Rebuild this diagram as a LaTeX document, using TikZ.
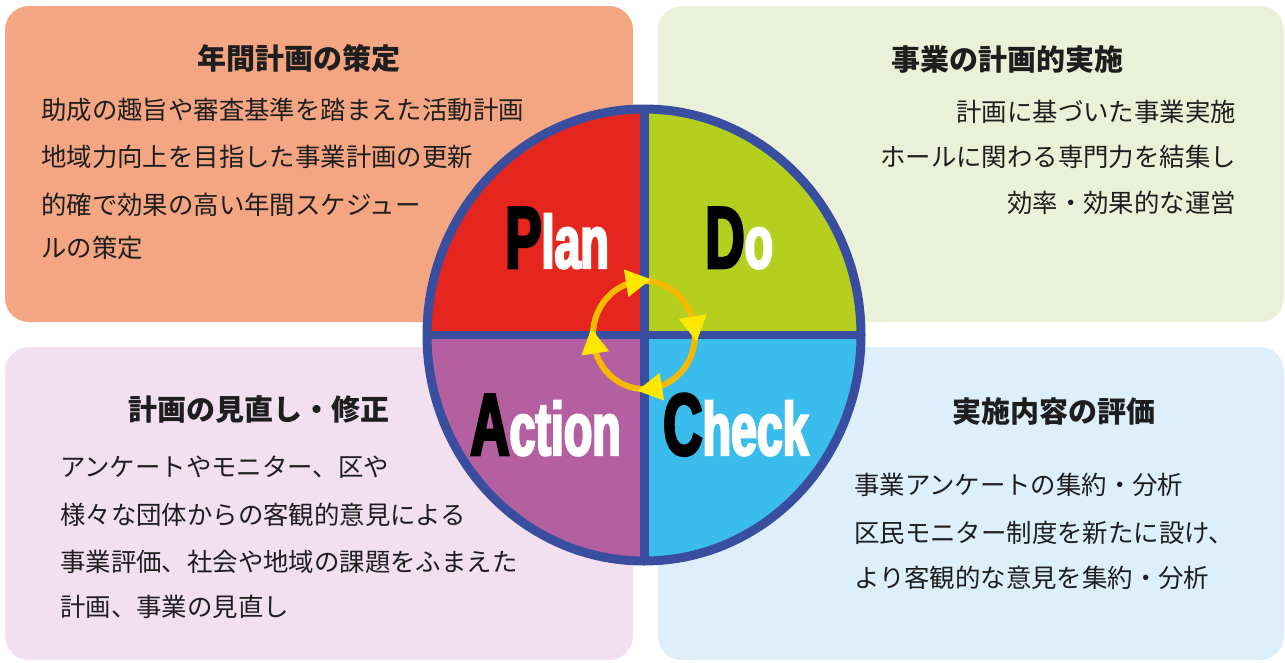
\documentclass[tikz,border=0pt]{standalone}
\usepackage{fontspec}
\newfontfamily\jp{Noto Sans CJK JP}
\newfontfamily\pdcafont[FakeStretch=0.62,FakeBold=3]{Liberation Sans}
\definecolor{boxP}{RGB}{244,165,130}
\definecolor{boxD}{RGB}{234,241,216}
\definecolor{boxA}{RGB}{242,223,240}
\definecolor{boxC}{RGB}{221,239,251}
\definecolor{qP}{RGB}{228,38,30}
\definecolor{qD}{RGB}{181,207,31}
\definecolor{qA}{RGB}{180,96,160}
\definecolor{qC}{RGB}{58,188,236}
\definecolor{bord}{RGB}{58,78,160}
\definecolor{ringc}{RGB}{245,185,0}
\definecolor{arrowc}{RGB}{255,232,0}
\definecolor{txt}{RGB}{30,30,30}
\begin{document}
\begin{tikzpicture}[x=1pt,y=1pt,
  panel/.style={rounded corners=24pt, inner sep=0pt, outer sep=0pt, anchor=north west, minimum width=628pt, minimum height=316pt},
  ttl/.style={font=\jp\bfseries\fontsize{29}{29}\selectfont, text=txt, inner sep=0pt, anchor=center},
  bdyl/.style={font=\jp\fontsize{25.4}{25.4}\selectfont, text=txt, inner sep=0pt, anchor=west},
  bdyr/.style={font=\jp\fontsize{25.4}{25.4}\selectfont, text=txt, inner sep=0pt, anchor=east},
  pdca/.style={font=\pdcafont\bfseries\fontsize{75}{75}\selectfont, text=white, inner sep=0pt, anchor=base west}]
\useasboundingbox (0,0) rectangle (1285,-662);
% panels
\node[panel, fill=boxP] (pP) at (5,-6) {};
\node[panel, fill=boxD, minimum width=626pt] (pD) at (658,-6) {};
\node[panel, fill=boxA, minimum height=313pt] (pA) at (5,-347) {};
\node[panel, fill=boxC, minimum width=626pt, minimum height=313pt] (pC) at (658,-347) {};
% texts top-left
\node[ttl] (tP) at (299,-58) {年間計画の策定};
\node[bdyl] (p1) at (41,-110) {助成の趣旨や審査基準を踏まえた活動計画};
\node[bdyl] (p2) at (41,-157) {地域力向上を目指した事業計画の更新};
\node[bdyl] (p3) at (41,-205) {的確で効果の高い年間スケジュー};
\node[bdyl] (p4) at (41,-248) {ルの策定};
% top-right
\node[ttl] (tD) at (1007,-60) {事業の計画的実施};
\node[bdyr] (d1) at (1236,-112) {計画に基づいた事業実施};
\node[bdyr] (d2) at (1236,-157) {ホールに関わる専門力を結集し};
\node[bdyr] (d3) at (1236,-203) {効率・効果的な運営};
% bottom-left
\node[ttl] (tA) at (259,-410) {計画の見直し・修正};
\node[bdyl] (a1) at (60,-467) {アンケートやモニター、区や};
\node[bdyl] (a2) at (60,-515) {様々な団体からの客観的意見による};
\node[bdyl] (a3) at (60,-562) {事業評価、社会や地域の課題をふまえた};
\node[bdyl] (a4) at (60,-607) {計画、事業の見直し};
% bottom-right
\node[ttl] (tC) at (1054,-412) {実施内容の評価};
\node[bdyl] (c1) at (854,-485) {事業アンケートの集約・分析};
\node[bdyl] (c2) at (854,-533) {区民モニター制度を新たに設け、};
\node[bdyl] (c3) at (854,-578) {より客観的な意見を集約・分析};
% circle
\coordinate (c) at (644,-335);
\fill[qP] (c) -- ++(0,226) arc[start angle=90,end angle=180,x radius=217,y radius=226] -- cycle;
\fill[qD] (c) -- ++(217,0) arc[start angle=0,end angle=90,x radius=217,y radius=226] -- cycle;
\fill[qA] (c) -- ++(-217,0) arc[start angle=180,end angle=270,x radius=217,y radius=226] -- cycle;
\fill[qC] (c) -- ++(0,-226) arc[start angle=270,end angle=360,x radius=217,y radius=226] -- cycle;
\draw[bord, line width=9pt] (c) +(0,226) -- +(0,-226);
\draw[bord, line width=8pt] (c) +(-217,0) -- +(217,0);
\draw[bord, line width=9pt] (c) ellipse [x radius=217, y radius=226];
% PDCA words
\node[pdca] (plan) at (505,-268) {\textcolor{black}{\fontsize{88}{88}\selectfont P}lan};
\node[pdca] (do) at (705,-268) {\textcolor{black}{\fontsize{88}{88}\selectfont D}o};
\node[pdca] (action) at (470,-455) {\textcolor{black}{\fontsize{88}{88}\selectfont A}ction};
\node[pdca] (check) at (663,-455) {\textcolor{black}{\fontsize{88}{88}\selectfont C}heck};
% cycle ring
\draw[ringc, line width=6pt] (c) ellipse [x radius=51, y radius=54];
\foreach \a in {9,99,189,279}{
  \begin{scope}[shift={(c)}, shift={(\a:51 and 54)}, rotate=\a]
    \fill[arrowc] (-14,10) -- (14,10) -- (0,-15) -- cycle;
  \end{scope}}
\end{tikzpicture}
\end{document}
